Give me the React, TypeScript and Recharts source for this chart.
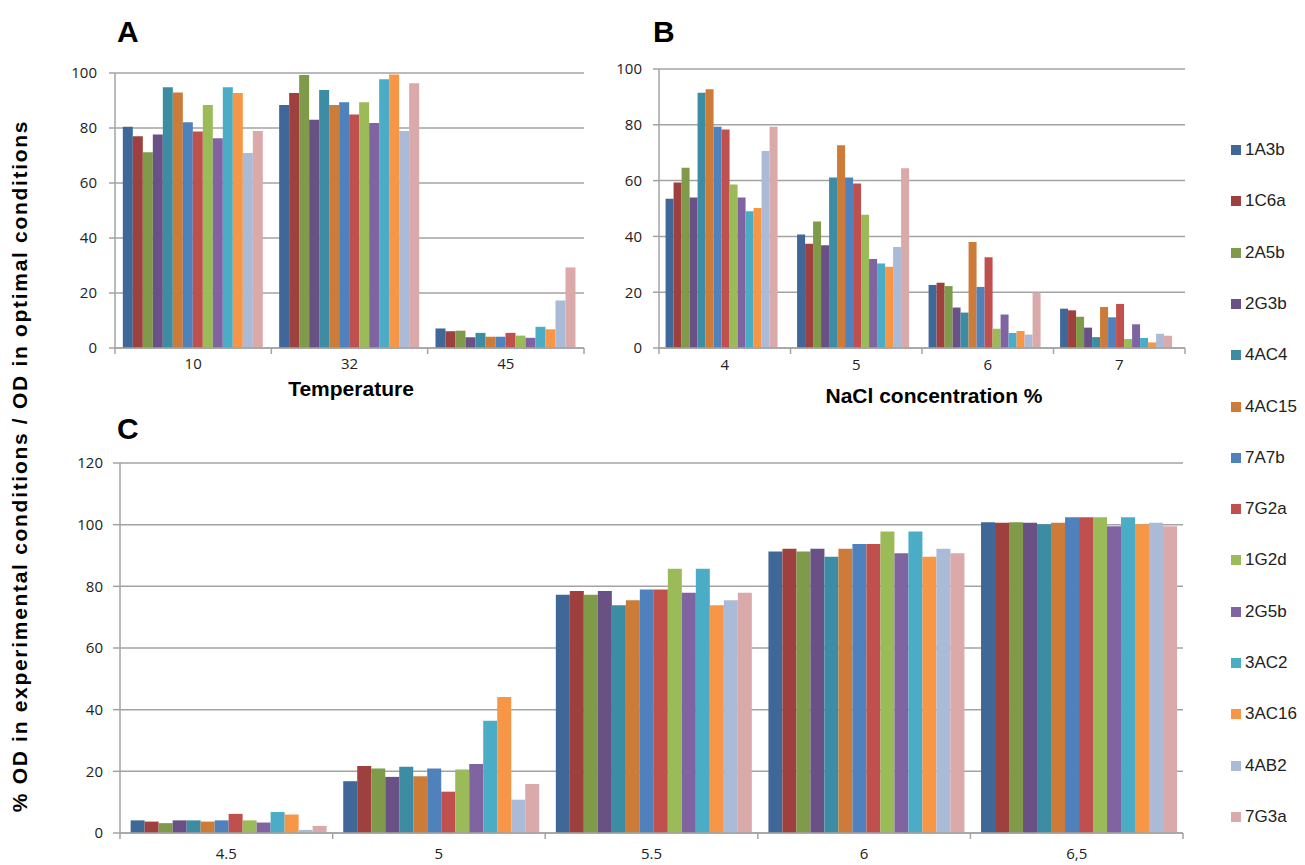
import React from 'react';
import { BarChart, Bar, XAxis, YAxis, CartesianGrid } from 'recharts';

const SERIES = ['1A3b', '1C6a', '2A5b', '2G3b', '4AC4', '4AC15', '7A7b', '7G2a', '1G2d', '2G5b', '3AC2', '3AC16', '4AB2', '7G3a'];
const COLORS = ['#3F6899', '#9E413E', '#7F9A48', '#695185', '#3C8DA3', '#CC7B38', '#4F81BD', '#C0504D', '#9BBB59', '#8064A2', '#4BACC6', '#F79646', '#AABAD7', '#D9AAA9'];

// A: temperature
const TEMP_CATS = ['10', '32', '45'];
const TEMP_VALUES = [
  [80.5, 77, 71.2, 77.6, 94.8, 92.9, 82.1, 78.7, 88.4, 76.3, 94.8, 92.7, 70.9, 78.9],
  [88.4, 92.7, 99.3, 83, 93.8, 88.4, 89.4, 84.9, 89.4, 81.8, 97.7, 99.5, 78.9, 96.3],
  [7.1, 6.1, 6.3, 3.9, 5.5, 4.1, 4.1, 5.5, 4.5, 3.7, 7.7, 6.8, 17.3, 29.3],
];

// B: NaCl
const NACL_CATS = ['4', '5', '6', '7'];
const NACL_VALUES = [
  [53.5, 59.3, 64.6, 53.9, 91.5, 92.7, 79.3, 78.3, 58.6, 53.9, 49, 50.2, 70.6, 79.3],
  [40.7, 37.4, 45.3, 36.8, 61.1, 72.7, 61.1, 59, 47.8, 31.9, 30.3, 29.1, 36.2, 64.4],
  [22.6, 23.4, 22.2, 14.5, 12.7, 38, 21.9, 32.5, 6.9, 12, 5.4, 6.1, 4.8, 19.9],
  [14.1, 13.5, 11.2, 7.3, 3.9, 14.7, 11, 15.8, 3.2, 8.5, 3.6, 2, 5.1, 4.4],
];

// C: pH
const PH_CATS = ['4.5', '5', '5.5', '6', '6,5'];
const PH_VALUES = [
  [4.1, 3.7, 3.2, 4.1, 4.1, 3.7, 4.1, 6.2, 4.1, 3.4, 6.8, 6, 1, 2.3],
  [16.8, 21.7, 20.9, 18.2, 21.5, 18.4, 20.9, 13.4, 20.6, 22.4, 36.4, 44.1, 10.8, 15.9],
  [77.3, 78.5, 77.3, 78.5, 73.9, 75.5, 79, 79, 85.7, 77.9, 85.7, 73.9, 75.5, 77.9],
  [91.3, 92.2, 91.3, 92.2, 89.6, 92.2, 93.7, 93.7, 97.8, 90.7, 97.8, 89.6, 92.2, 90.7],
  [100.8, 100.6, 100.8, 100.6, 100.1, 100.6, 102.4, 102.4, 102.4, 99.5, 102.4, 100.1, 100.6, 99.5],
];

const TICKS_100 = [0, 20, 40, 60, 80, 100];
const TICKS_120 = [0, 20, 40, 60, 80, 100, 120];

const GRID = '#a3a3a3';
const TICK_FONT = { fontSize: 15, fill: '#222', fontFamily: 'Open Sans' };
const BOLD = 'Liberation Sans, Arial, sans-serif';

function Panel({ cats, values, ticks, left, top, right, bottom, tickSize, tickMargin, labelGap }: any) {
  const yW = 70;
  const mTop = 12;
  const xH = 32;
  const plotW = right - left;
  const band = plotW / cats.length;
  const data = cats.map((c: string, i: number) => {
    const row: any = { cat: c };
    SERIES.forEach((s, j) => { row[s] = values[i][j]; });
    return row;
  });

  // excel style: tick marks between categories, label in the middle
  const renderTick = (p: any) => {
    const { x, y, payload, index } = p;
    return (
      <g>
        <line x1={x - band / 2} x2={x - band / 2} y1={y} y2={y + 6} stroke={GRID} strokeWidth={1.5} />
        {index === cats.length - 1 && (
          <line x1={x + band / 2} x2={x + band / 2} y1={y} y2={y + 6} stroke={GRID} strokeWidth={1.5} />
        )}
        <text x={x} y={y + labelGap} dy="0.71em" textAnchor="middle" {...TICK_FONT}>{payload.value}</text>
      </g>
    );
  };

  return (
    <div style={{ position: 'absolute', left: left - yW, top: top - mTop }}>
      <BarChart
        width={plotW + yW + 4}
        height={bottom - top + mTop + xH}
        data={data}
        margin={{ top: mTop, right: 4, left: 0, bottom: 0 }}
        barGap={0}
        barCategoryGap="5%"
        style={{ overflow: 'visible' }}
      >
        <CartesianGrid vertical={false} stroke={GRID} strokeWidth={1.5} />
        <XAxis
          dataKey="cat"
          height={xH}
          interval={0}
          axisLine={{ stroke: GRID, strokeWidth: 1.5 }}
          tickLine={false}
          tickSize={0}
          tickMargin={0}
          tick={renderTick}
        />
        <YAxis
          width={yW}
          domain={[0, ticks[ticks.length - 1]]}
          ticks={ticks}
          interval={0}
          axisLine={{ stroke: GRID, strokeWidth: 1.5 }}
          tickLine={{ stroke: GRID, strokeWidth: 1.5 }}
          tickSize={tickSize}
          tickMargin={tickMargin}
          tick={TICK_FONT}
        />
        {SERIES.map((s, i) => (
          <Bar key={s} dataKey={s} fill={COLORS[i]} isAnimationActive={false} />
        ))}
      </BarChart>
    </div>
  );
}

export default function App() {
  const letter = { position: 'absolute' as const, fontFamily: BOLD, fontWeight: 700, fontSize: 30, lineHeight: 1, color: '#000' };
  const title = { position: 'absolute' as const, fontFamily: BOLD, fontWeight: 700, fontSize: 21, lineHeight: 1, color: '#000', whiteSpace: 'nowrap' as const, transform: 'translateX(-50%)' };
  return (
    <div style={{ position: 'absolute', left: 0, top: 0, width: 1305, height: 865, background: '#fff', overflow: 'hidden' }}>
      <div style={{ ...letter, left: 117, top: 17 }}>A</div>
      <div style={{ ...letter, left: 653, top: 17 }}>B</div>
      <div style={{ ...letter, left: 117, top: 414 }}>C</div>

      <Panel cats={TEMP_CATS} values={TEMP_VALUES} ticks={TICKS_100} left={115} top={73} right={584} bottom={348} tickSize={6} tickMargin={12} labelGap={10} />
      <Panel cats={NACL_CATS} values={NACL_VALUES} ticks={TICKS_100} left={659} top={69} right={1185} bottom={348} tickSize={6} tickMargin={11} labelGap={11} />
      <Panel cats={PH_CATS} values={PH_VALUES} ticks={TICKS_120} left={120} top={463} right={1183} bottom={833} tickSize={7} tickMargin={10} labelGap={15} />

      <div style={{ ...title, left: 351, top: 378 }}>Temperature</div>
      <div style={{ ...title, left: 934, top: 385 }}>NaCl concentration %</div>

      <div
        style={{
          position: 'absolute', left: 19, top: 466, fontFamily: BOLD, fontWeight: 700, fontSize: 21, lineHeight: 1,
          letterSpacing: 1.7, whiteSpace: 'nowrap', transform: 'translate(-50%, -50%) rotate(-90deg)', color: '#000',
        }}
      >
        % OD in experimental conditions / OD in optimal conditions
      </div>

      {SERIES.map((s, i) => (
        <div key={s} style={{ position: 'absolute', left: 1231, top: 150 + i * 51.3 - 10, height: 20, display: 'flex', alignItems: 'center', fontFamily: BOLD, fontSize: 17, color: '#222' }}>
          <span style={{ width: 10, height: 10, background: COLORS[i], marginRight: 4, display: 'inline-block' }} />
          {s}
        </div>
      ))}
    </div>
  );
}
